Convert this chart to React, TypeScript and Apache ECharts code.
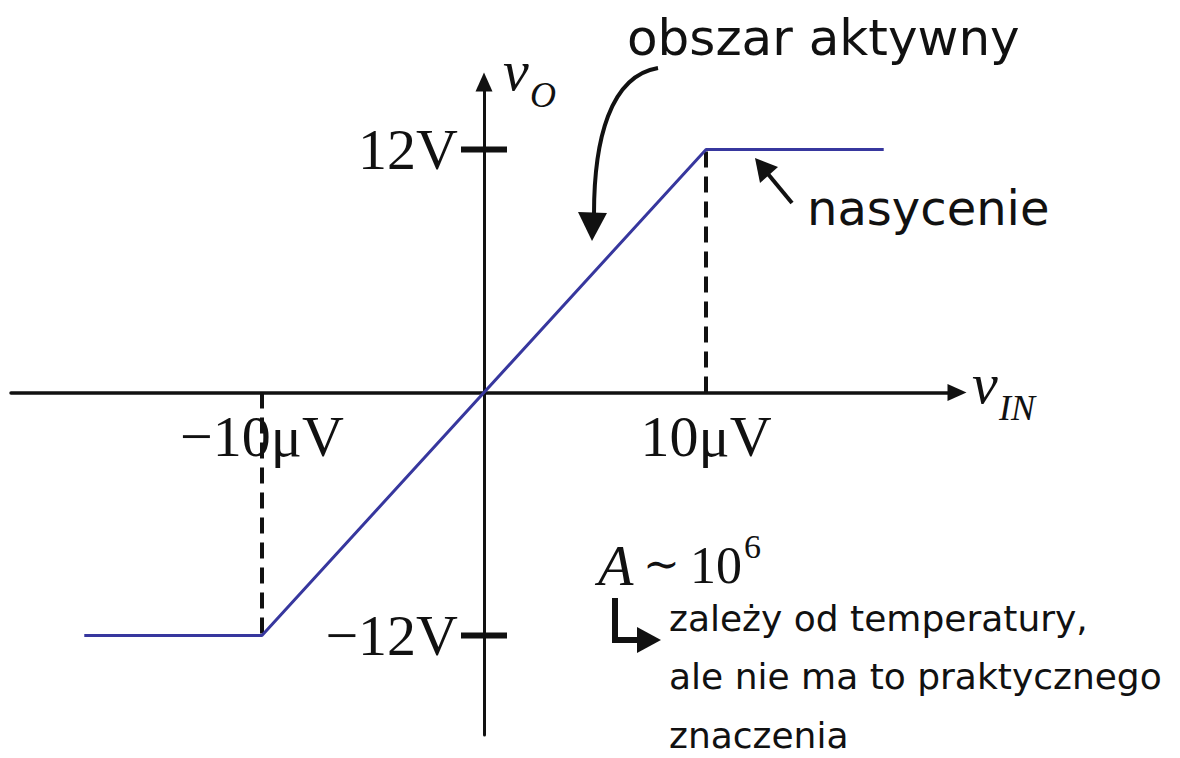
import React, { useEffect, useRef } from "react";
import * as echarts from "echarts";

// Transfer characteristic of an op-amp: output voltage vs differential input
const vIn = [-18, -10, 10, 18]; // µV
const vOut = [-12, -12, 12, 12]; // V
const xTicks = [-10, 10]; // µV
const yTicks = [12, -12]; // V
const noteLines = ["zależy od temperatury,", "ale nie ma to praktycznego", "znaczenia"];

const SERIF = "Liberation Serif";
const HAND = "DejaVu Sans";
const INK = "#111111";

const txt = (
  x: number,
  y: number,
  text: string,
  size: number,
  family: string,
  italic = false,
  extra: Record<string, unknown> = {}
) => ({
  type: "text",
  x,
  y,
  style: {
    text,
    fontSize: size,
    fontFamily: family,
    fontStyle: italic ? "italic" : "normal",
    fill: INK,
    align: "left",
    textAlign: "left",
    verticalAlign: "middle",
    textVerticalAlign: "middle",
    ...extra,
  },
  z: 10,
});

export default function App() {
  const ref = useRef<HTMLDivElement>(null);

  useEffect(() => {
    if (!ref.current) return;
    const chart = echarts.init(ref.current, null, { renderer: "svg" });

    const linePoints = vIn.map((x, i) => [x, vOut[i]]);
    // saturation onset points (where the linear region ends)
    const knees = [linePoints[1], linePoints[2]];

    const labelFont = {
      fontFamily: SERIF,
      fontSize: 58,
      lineHeight: 58,
      color: INK,
      opacity: 1,
    };

    chart.setOption({
      animation: false,
      backgroundColor: "#ffffff",
      grid: {
        left: 11,
        top: 82,
        width: 946,
        height: 653,
        containLabel: false,
        outerBoundsMode: "none",
      },
      xAxis: {
        type: "value",
        min: -21.3,
        max: 21.3,
        axisLine: {
          onZero: true,
          symbol: ["none", "triangle"],
          symbolSize: [17, 19],
          lineStyle: { color: INK, width: 3.5 },
        },
        axisTick: { show: false },
        splitLine: { show: false },
        axisLabel: { show: false },
      },
      yAxis: {
        type: "value",
        min: -16.91,
        max: 15.33,
        axisLine: {
          onZero: true,
          symbol: ["none", "triangle"],
          symbolSize: [17, 19],
          lineStyle: { color: INK, width: 3 },
        },
        axisTick: { show: false },
        splitLine: { show: false },
        axisLabel: { show: false },
      },
      series: [
        {
          type: "line",
          data: linePoints,
          symbol: "none",
          lineStyle: { color: "#37379e", width: 3 },
          z: 5,
          markLine: {
            silent: true,
            symbol: ["none", "none"],
            label: { show: false },
            lineStyle: { color: INK, width: 4, type: [16, 9] },
            data: knees.map(([x, y]) => [{ coord: [x, 0] }, { coord: [x, y] }]),
          },
        },
        {
          // tick bars crossing the vertical axis, with their voltage labels
          type: "scatter",
          data: yTicks.map((v) => [0, v]),
          symbol: "rect",
          symbolSize: [46, 6],
          itemStyle: { color: INK, opacity: 1 },
          label: {
            show: true,
            position: "left",
            distance: 3,
            ...labelFont,
            formatter: (p: any) => {
              const v = p.value[1];
              return `${v < 0 ? "\u2212" : ""}${Math.abs(v)}V`;
            },
          },
          silent: true,
          z: 6,
        },
        {
          // input voltage labels under the horizontal axis
          type: "scatter",
          data: xTicks.map((v) => [v, 0]),
          symbol: "circle",
          symbolSize: 1,
          itemStyle: { color: "rgba(0,0,0,0)", opacity: 1 },
          label: {
            show: true,
            position: "bottom",
            distance: 15,
            ...labelFont,
            formatter: (p: any) => {
              const v = p.value[0];
              return `${v < 0 ? "\u2212" : ""}${Math.abs(v)}\u03bcV`;
            },
          },
          silent: true,
          z: 6,
        },
      ],
      graphic: [
        // axis names
        txt(503, 70, "v", 58, SERIF, true),
        txt(530, 95, "O", 36, SERIF, true),
        txt(972, 383, "v", 58, SERIF, true),
        txt(999, 408, "IN", 36, SERIF, true),
        // open-loop gain
        txt(598, 565, "A", 58, SERIF, true),
        txt(643, 563, "\u223c", 44, "DejaVu Serif"),
        txt(690, 565, "10", 52, SERIF),
        txt(744, 546, "6", 34, SERIF),
        // annotations
        txt(627, 38, "obszar aktywny", 50, HAND),
        txt(807, 208, "nasycenie", 48, HAND),
        ...noteLines.map((line, i) =>
          txt(669, 618 + i * 58.5, line, 36, HAND, false, { lineHeight: 34 })
        ),
        // curved arrow to the linear region
        {
          type: "bezierCurve",
          shape: { x1: 658, y1: 68, cpx1: 610, cpy1: 76, cpx2: 594, cpy2: 140, x2: 594, y2: 214 },
          style: { stroke: INK, lineWidth: 4, fill: "none" },
          z: 10,
        },
        {
          type: "polygon",
          shape: { points: [[578, 212], [607, 213], [592, 241]] },
          style: { fill: INK },
          z: 10,
        },
        // arrow to the saturation level
        {
          type: "line",
          shape: { x1: 792, y1: 203, x2: 768, y2: 174 },
          style: { stroke: INK, lineWidth: 4 },
          z: 10,
        },
        {
          type: "polygon",
          shape: { points: [[755, 158], [778, 167], [760, 183]] },
          style: { fill: INK },
          z: 10,
        },
        // hooked arrow under the gain note
        {
          type: "polyline",
          shape: { points: [[615, 598], [615, 640], [640, 640]] },
          style: { stroke: INK, lineWidth: 6, fill: "none" },
          z: 10,
        },
        {
          type: "polygon",
          shape: { points: [[637, 627], [661, 640], [637, 653]] },
          style: { fill: INK },
          z: 10,
        },
      ],
    });

    return () => chart.dispose();
  }, []);

  return (
    <div
      ref={ref}
      style={{ position: "absolute", left: 0, top: 0, width: 1180, height: 758, background: "#fff" }}
    />
  );
}
